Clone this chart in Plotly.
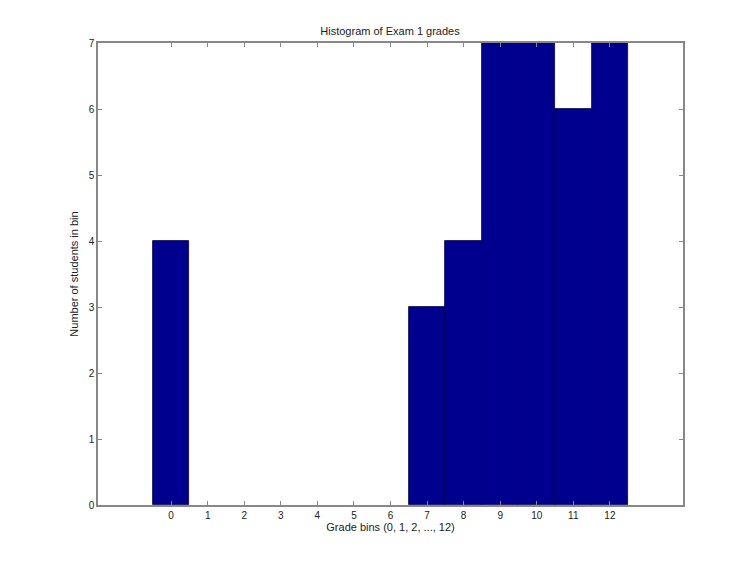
import plotly.graph_objects as go

bins = [0, 1, 2, 3, 4, 5, 6, 7, 8, 9, 10, 11, 12]
counts = [4, 0, 0, 0, 0, 0, 0, 3, 4, 7, 7, 6, 7]
x_ticks = [0, 1, 2, 3, 4, 5, 6, 7, 8, 9, 10, 11, 12]
y_ticks = [0, 1, 2, 3, 4, 5, 6, 7]

edge_widths = [0.8 if c > 0 else 0 for c in counts]

fig = go.Figure()
fig.add_trace(go.Bar(
    x=bins, y=counts, width=1.0,
    marker=dict(color="#00008F", line=dict(color="#000050", width=edge_widths)),
))

font = dict(family="Liberation Sans, Arial, sans-serif", size=10, color="#222")
axis_common = dict(
    showline=True, linecolor="#888", linewidth=1.5, mirror="ticks",
    ticks="inside", ticklen=4, tickcolor="#888", tickwidth=1,
    showgrid=False, zeroline=False, tickfont=font,
)
fig.update_layout(
    width=754, height=566,
    margin=dict(l=90, r=79, t=35, b=69),
    paper_bgcolor="white", plot_bgcolor="white",
    showlegend=False,
    bargap=0,
    title=dict(text="Histogram of Exam 1 grades", x=(390 - 8) / 754, xanchor="center",
               y=1 - 23 / 566, yanchor="middle",
               font=dict(family="Liberation Sans, Arial, sans-serif", size=11, color="#222")),
    xaxis=dict(range=[-2, 14], tickvals=x_ticks, ticktext=[str(t) for t in x_ticks],
               title=dict(text="Grade bins (0, 1, 2, ..., 12)", standoff=4,
                          font=dict(family="Liberation Sans, Arial, sans-serif", size=11, color="#222")),
               **axis_common),
    yaxis=dict(range=[0, 7], tickvals=y_ticks, ticktext=[str(t) for t in y_ticks],
               title=dict(text="Number of students in bin", standoff=8,
                          font=dict(family="Liberation Sans, Arial, sans-serif", size=11, color="#222")),
               **axis_common),
)
fig.write_html("out.html")
